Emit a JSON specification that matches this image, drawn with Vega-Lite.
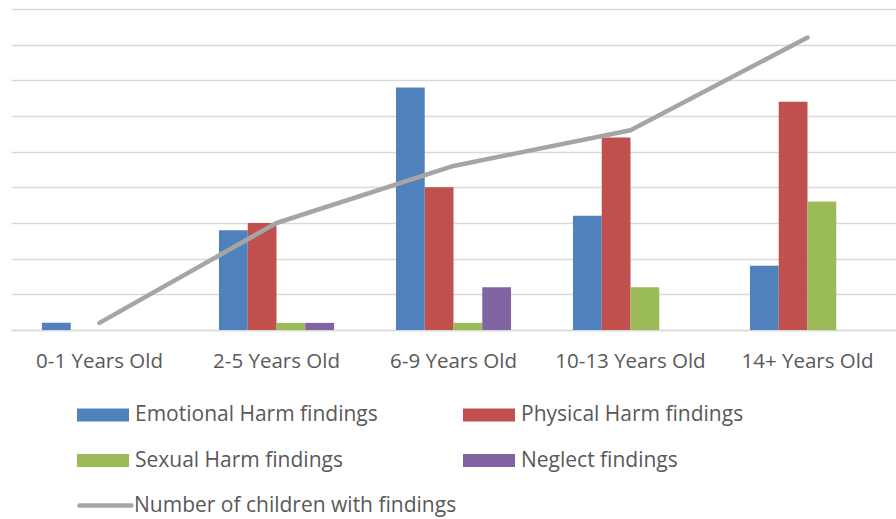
{
  "$schema": "https://vega.github.io/schema/vega-lite/v6.json",
  "width": 885,
  "height": 321,
  "autosize": {"type": "none"},
  "padding": {"left": 11, "top": 9, "right": 0, "bottom": 189},
  "background": "white",
  "config": {
    "view": {"stroke": null},
    "font": "Open Sans",
    "axis": {"labelFont": "Open Sans", "labelColor": "#595959"},
    "legend": {"labelFont": "Open Sans", "labelColor": "#595959"}
  },
  "datasets": {
    "findings": [
      {"age": "0-1 Years Old", "type": "Emotional Harm findings", "count": 1},
      {"age": "0-1 Years Old", "type": "Physical Harm findings", "count": 0},
      {"age": "0-1 Years Old", "type": "Sexual Harm findings", "count": 0},
      {"age": "0-1 Years Old", "type": "Neglect findings", "count": 0},
      {"age": "2-5 Years Old", "type": "Emotional Harm findings", "count": 14},
      {"age": "2-5 Years Old", "type": "Physical Harm findings", "count": 15},
      {"age": "2-5 Years Old", "type": "Sexual Harm findings", "count": 1},
      {"age": "2-5 Years Old", "type": "Neglect findings", "count": 1},
      {"age": "6-9 Years Old", "type": "Emotional Harm findings", "count": 34},
      {"age": "6-9 Years Old", "type": "Physical Harm findings", "count": 20},
      {"age": "6-9 Years Old", "type": "Sexual Harm findings", "count": 1},
      {"age": "6-9 Years Old", "type": "Neglect findings", "count": 6},
      {"age": "10-13 Years Old", "type": "Emotional Harm findings", "count": 16},
      {"age": "10-13 Years Old", "type": "Physical Harm findings", "count": 27},
      {"age": "10-13 Years Old", "type": "Sexual Harm findings", "count": 6},
      {"age": "10-13 Years Old", "type": "Neglect findings", "count": 0},
      {"age": "14+ Years Old", "type": "Emotional Harm findings", "count": 9},
      {"age": "14+ Years Old", "type": "Physical Harm findings", "count": 32},
      {"age": "14+ Years Old", "type": "Sexual Harm findings", "count": 18},
      {"age": "14+ Years Old", "type": "Neglect findings", "count": 0}
    ],
    "children": [
      {"age": "0-1 Years Old", "series": "Number of children with findings", "children": 1},
      {"age": "2-5 Years Old", "series": "Number of children with findings", "children": 15},
      {"age": "6-9 Years Old", "series": "Number of children with findings", "children": 23},
      {"age": "10-13 Years Old", "series": "Number of children with findings", "children": 28},
      {"age": "14+ Years Old", "series": "Number of children with findings", "children": 41}
    ]
  },
  "encoding": {
    "x": {
      "field": "age",
      "type": "nominal",
      "sort": ["0-1 Years Old", "2-5 Years Old", "6-9 Years Old", "10-13 Years Old", "14+ Years Old"],
      "scale": {"paddingInner": 0.35, "paddingOuter": 0.175},
      "axis": {
        "title": null,
        "labelAngle": 0,
        "labelFontSize": 20.5,
        "labelPadding": 21,
        "ticks": false,
        "domain": true,
        "domainColor": "#D9D9D9",
        "domainWidth": 1.5,
        "grid": false
      }
    },
    "y": {
      "type": "quantitative",
      "scale": {"domain": [0, 45], "nice": false},
      "axis": {
        "title": null,
        "labels": false,
        "ticks": false,
        "domain": false,
        "grid": true,
        "gridColor": "#D9D9D9",
        "gridWidth": 1.5,
        "values": [0, 5, 10, 15, 20, 25, 30, 35, 40, 45]
      }
    }
  },
  "layer": [
    {
      "data": {"name": "findings"},
      "mark": {"type": "bar"},
      "encoding": {
        "xOffset": {
          "field": "type",
          "type": "nominal",
          "scale": {
            "domain": ["Emotional Harm findings", "Physical Harm findings", "Sexual Harm findings", "Neglect findings"],
            "paddingInner": 0,
            "paddingOuter": 0
          }
        },
        "y": {"field": "count"},
        "color": {
          "field": "type",
          "type": "nominal",
          "scale": {
            "domain": ["Emotional Harm findings", "Physical Harm findings", "Sexual Harm findings", "Neglect findings"],
            "range": ["#4F81BD", "#C0504D", "#9BBB59", "#8064A2"]
          },
          "legend": {
            "title": null,
            "orient": "none",
            "direction": "horizontal",
            "legendX": 66,
            "legendY": 380,
            "columns": 2,
            "columnPadding": 85,
            "rowPadding": 9.5,
            "padding": 0,
            "symbolType": "M-1,-0.25H1V0.25H-1Z",
            "symbolSize": 2704,
            "symbolStrokeWidth": 0,
            "symbolOpacity": 1,
            "labelFontSize": 21,
            "labelOffset": 6,
            "labelLimit": 400
          }
        }
      }
    },
    {
      "data": {"name": "children"},
      "mark": {"type": "line", "strokeWidth": 4.5, "strokeCap": "round", "strokeJoin": "round"},
      "encoding": {
        "y": {"field": "children"},
        "stroke": {
          "field": "series",
          "type": "nominal",
          "scale": {"range": ["#A5A5A5"]},
          "legend": {
            "title": null,
            "orient": "none",
            "legendX": 66,
            "legendY": 468,
            "padding": 0,
            "symbolType": "stroke",
            "symbolSize": 2704,
            "symbolStrokeWidth": 4.5,
            "labelFontSize": 21,
            "labelOffset": 0,
            "labelLimit": 400,
            "encode": {"symbols": {"update": {"strokeCap": {"value": "round"}}}}
          }
        }
      }
    }
  ]
}
